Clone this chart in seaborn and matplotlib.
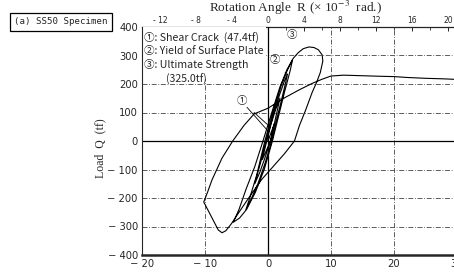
import numpy as np
import pandas as pd
import matplotlib
matplotlib.use("Agg")
import matplotlib.pyplot as plt
import seaborn as sns
from matplotlib.patches import Rectangle


# Hysteresis curve (disp in mm, load in tf)
# small cycles before the ultimate one
cyc_disp = [0.0, 0.5, 1.0, 0.8, 0.4, -0.3, -0.9, -0.7, -0.2,
            0.5, 1.2, 1.9, 1.6, 1.0, 0.4, -0.5, -1.3, -2.1,
            -1.8, -1.1, -0.3, 0.8, 1.8, 2.6, 3.1, 2.8, 2.1, 1.3, 0.6,
            -0.5, -1.6, -2.6, -3.5, -2.9, -1.8, -0.5, 0.9, 2.1, 3.1, 3.9,
            3.5, 2.6, 1.6, 0.7, -0.6, -2.0, -3.4, -4.5, -5.5]
cyc_load = [0, 30, 60, 45, 0, -35, -65, -45, 0,
            60, 110, 150, 120, 60, 0, -60, -110, -150,
            -125, -70, 0, 90, 160, 210, 235, 205, 140, 70, 0,
            -80, -150, -200, -240, -200, -120, 0, 110, 195, 250, 285,
            245, 170, 80, 0, -100, -180, -240, -270, -285]

# ultimate cycle (325.0tf) and unloading to the negative side
ult_disp = [-4.6, -3.5, -2.1, -0.8, 0.6, 1.9, 3.0, 4.0, 4.8, 5.6, 6.5,
            7.3, 8.0, 8.6, 8.7, 8.3, 7.7, 7.0, 6.0, 5.0, 4.2, 2.6, 0.8,
            -1.0, -2.6, -4.3, -5.8, -6.7, -7.3, -7.9, -9.0, -10.2]
ult_load = [-240, -170, -90, 0, 100, 190, 250, 290, 310, 324, 330,
            328, 320, 302, 280, 240, 205, 170, 110, 55, 0, -45, -90,
            -135, -185, -240, -290, -315, -322, -312, -265, -214]

# final push in the positive direction
push_disp = [-9.6, -8.9, -7.3, -5.6, -3.8, -2.2, 0.0, 2.5, 5.0, 7.0, 8.5,
             10.0, 12.0, 15.0, 18.0, 20.0, 22.0, 25.0, 28.0, 30.0]
push_load = [-180, -137, -60, 0, 55, 95, 115, 150, 180, 202, 216,
             228, 231, 229, 227, 226, 223, 220, 218, 216]

x_ticks = [-20, -10, 0, 10, 20, 30]
x_labels = ["− 20", "− 10", "0", "10", "20", "30"]
y_ticks = [400, 300, 200, 100, 0, -100, -200, -300, -400]
y_labels = ["400", "300", "200", "100", "0", "− 100", "− 200", "− 300", "− 400"]
top_ticks = [-12, -8, -4, 0, 4, 8, 12, 16, 20]
top_labels = ["- 12", "- 8", "- 4", "0", "4", "8", "12", "16", "20"]
grid_x = [-10, 10, 20]
grid_y = [300, 200, 100, -100, -200, -300]
MM_PER_R = 1.43  # bottom mm per 1e-3 rad on the top scale

legend_lines = ["①: Shear Crack  (47.4tf)",
                "②: Yield of Surface Plate",
                "③: Ultimate Strength",
                "(325.0tf)"]

df = pd.DataFrame({
    "disp": cyc_disp + ult_disp + push_disp,
    "load": cyc_load + ult_load + push_load,
})

sns.set_style("white")
plt.rcParams["font.family"] = ["DejaVu Sans", "Noto Sans CJK JP"]
plt.rcParams["mathtext.fontset"] = "stix"

W, H = 454, 275
fig = plt.figure(figsize=(W / 100, H / 100), dpi=100)
ax = fig.add_axes([142 / W, 1 - 255 / H, (457 - 142) / W, (255 - 27) / H])

# grid lines (dash-dot) and the zero axes
for gx in grid_x:
    ax.axvline(gx, color="#444444", lw=0.6, ls=(0, (6, 2, 1, 2)), zorder=1)
for gy in grid_y:
    ax.axhline(gy, color="#444444", lw=0.6, ls=(0, (6, 2, 1, 2)), zorder=1)
ax.axhline(0, color="black", lw=0.9, zorder=1)
ax.axvline(0, color="black", lw=0.9, zorder=1)

# white area behind the notes in the upper left
ax.add_patch(Rectangle((0.004, 0.77), 0.39, 0.23, transform=ax.transAxes,
                       facecolor="white", edgecolor="none", zorder=2))

sns.lineplot(data=df, x="disp", y="load", sort=False, estimator=None,
             color="black", lw=0.8, ax=ax, zorder=3)

ax.set_xlim(-20, 30)
ax.set_ylim(-400, 400)
ax.set_xticks(x_ticks)
ax.set_xticklabels(x_labels)
ax.set_yticks(y_ticks)
ax.set_yticklabels(y_labels)
ax.tick_params(axis="both", length=0, labelsize=7.2, pad=3)
ax.set_xlabel("")
ax.set_ylabel("")

ax.spines["top"].set_visible(False)
ax.spines["right"].set_visible(False)
ax.spines["bottom"].set_linewidth(1.8)
ax.spines["left"].set_linewidth(0.8)
ax.spines["left"].set_linestyle((0, (2, 1)))

top = ax.secondary_xaxis("top", functions=(lambda d: d / MM_PER_R,
                                           lambda r: r * MM_PER_R))
top.set_xticks(top_ticks)
top.set_xticklabels(top_labels)
top.set_xticks(np.arange(-14, 22, 2), minor=True)
top.tick_params(axis="x", which="major", direction="in", length=3,
                width=0.7, labelsize=5.5, pad=1.5)
top.tick_params(axis="x", which="minor", direction="in", length=2, width=0.6)
top.spines["top"].set_linewidth(0.9)

# circled markers with leader lines
mark_font = dict(family=["Noto Sans CJK JP", "DejaVu Sans"], fontsize=7.5,
                 ha="center", va="center", zorder=4)
ax.annotate("①", xy=(-0.1, 58), xytext=(-4.2, 140),
            arrowprops=dict(arrowstyle="-", lw=0.6, color="black",
                            shrinkA=4, shrinkB=0), **mark_font)
ax.annotate("", xy=(0.0, 35), xytext=(-4.2, 140),
            arrowprops=dict(arrowstyle="-", lw=0.6, color="black",
                            shrinkA=6, shrinkB=0))
ax.annotate("②", xy=(3.0, 232), xytext=(1.1, 284),
            arrowprops=dict(arrowstyle="-", lw=0.6, color="black",
                            shrinkA=4, shrinkB=0), **mark_font)
ax.text(3.8, 372, "③", **mark_font)

# notes in the upper left corner
note_font = dict(family=["Noto Sans CJK JP", "DejaVu Sans"], fontsize=7.6,
                 ha="left", va="center")
note_y = [37, 51, 65, 79]
note_x = [144, 144, 144, 166]
for txt, nx, ny in zip(legend_lines, note_x, note_y):
    fig.text(nx / W, 1 - ny / H, txt, **note_font)

fig.text(61 / W, 1 - 22 / H, "(a) SS50 Specimen", family="DejaVu Sans Mono",
         fontsize=6.6, ha="center", va="center",
         bbox=dict(boxstyle="square,pad=0.45", fc="white", ec="black", lw=0.9))

fig.text(296 / W, 1 - 8 / H, r"Rotation Angle  R (× 10$^{-3}$  rad.)",
         family="Liberation Serif", fontsize=9.5, ha="center", va="center")
fig.text(100 / W, 1 - 148 / H, "Load  Q  (tf)", family="Liberation Serif",
         fontsize=8.5, rotation=90, ha="center", va="center")

fig.savefig("out.png", dpi=100)
